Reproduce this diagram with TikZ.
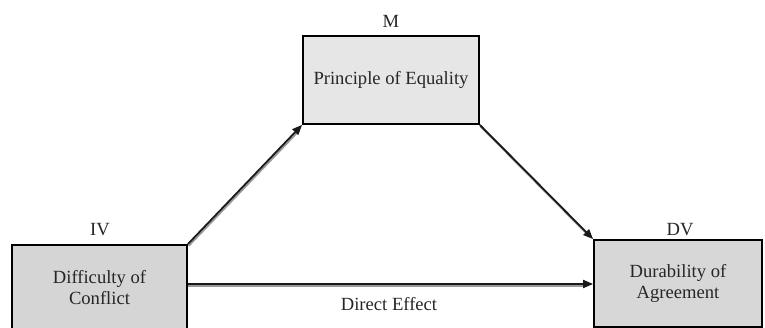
\documentclass[tikz,border=0pt]{standalone}
\usepackage{fontspec}
\setmainfont{Liberation Serif}
\usetikzlibrary{arrows.meta}
\definecolor{ivfill}{HTML}{D5D5D5}
\definecolor{mfill}{HTML}{E6E6E6}
\definecolor{dvfill}{HTML}{D7D7D7}
\definecolor{shadowgray}{HTML}{999999}
\begin{document}
\begin{tikzpicture}[x=1pt,y=-1pt,
  box/.style={draw=black, line width=1.8pt, inner sep=0pt, align=center,
    font=\fontsize{18.6}{21}\selectfont, text=black!85},
  lab/.style={font=\fontsize{18.6}{21}\selectfont, inner sep=0pt, text=black!85},
  arr/.style={line width=1.8pt, draw=black!90, -{Triangle[length=10pt,width=8pt]}},
  shad/.style={line width=1.8pt, draw=shadowgray, shorten >=9pt}]
\clip (0,0) rectangle (765,328);
% boxes
\node[box, fill=ivfill, minimum width=175pt, minimum height=86pt] (iv) at (99.5,288) {Difficulty of\\Conflict};
\node[box, fill=mfill, minimum width=176pt, minimum height=88pt] (m) at (391,80) {Principle of Equality};
\node[box, fill=dvfill, minimum width=168pt, minimum height=87pt] (dv) at (678,283.5) {Durability of\\Agreement};
% labels
\node[lab] (ivl) at (100,230) {IV};
\node[lab] (ml) at (391,21.5) {M};
\node[lab] (dvl) at (680,230) {DV};
\node[lab] (de) at (389,304) {Direct Effect};
% coordinates for the direct arrow
\coordinate (ds) at ([yshift=4pt]iv.east);
\coordinate (de2) at (ds -| dv.west);
% shadows
\draw[shad] ([xshift=0.8pt,yshift=-1.8pt]iv.north east) -- ([xshift=0.8pt,yshift=-1.8pt]m.south west);
\draw[shad] ([xshift=0.8pt,yshift=-1.8pt]m.south east) -- ([xshift=0.8pt,yshift=-1.8pt]dv.north west);
\draw[shad] ([yshift=-2pt]ds) -- ([yshift=-2pt]de2);
% arrows
\draw[arr] (iv.north east) -- (m.south west);
\draw[arr] (m.south east) -- (dv.north west);
\draw[arr] (ds) -- (de2);
\end{tikzpicture}
\end{document}
